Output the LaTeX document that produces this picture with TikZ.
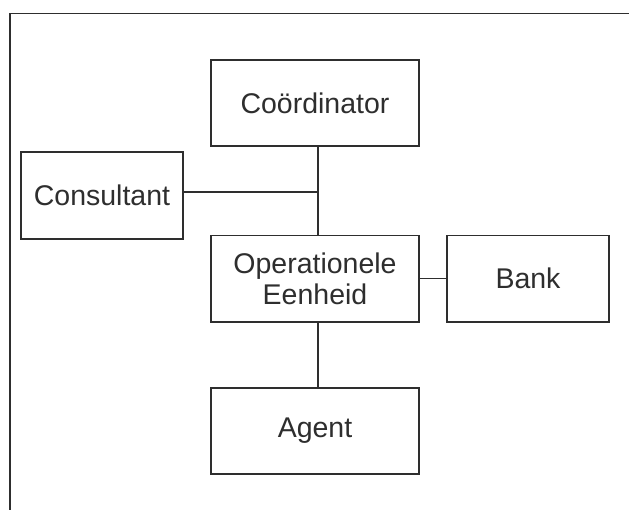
\documentclass[tikz,border=0pt]{standalone}
\usepackage{fontspec}
\setmainfont{Liberation Sans}
\definecolor{ink}{HTML}{2E2E2E}
\begin{document}
\begin{tikzpicture}[x=1pt,y=-1pt,
  box/.style={draw=ink, line width=1.2pt, inner sep=0pt, minimum width=208pt, minimum height=86pt,
    font=\fontsize{28.5}{30.5}\selectfont, text=ink, align=center},
  conn/.style={draw=ink, line width=1.2pt},
  frame/.style={draw=ink, line width=1.4pt}]
\useasboundingbox (0,0) rectangle (629,510);
\fill[white] (0,0) rectangle (629,510);
\draw[frame] (10,510) -- (10,13.5) -- (629,13.5);
\node[box] (coord) at (315,103) {Coördinator};
\node[box, minimum width=162pt, minimum height=87pt] (cons) at (102,195.5) {Consultant};
\node[box, minimum height=86.5pt] (op) at (315,278.75) {Operationele\\Eenheid};
\node[box, minimum width=162pt, minimum height=86.5pt] (bank) at (528,278.75) {Bank};
\node[box] (agent) at (315,431) {Agent};
\coordinate (j) at (318,192);
\draw[conn] (coord.south -| j) -- (op.north -| j);
\draw[conn] (cons.east |- j) -- (j);
\draw[conn] (op.east) -- (bank.west);
\draw[conn] (op.south -| j) -- (agent.north -| j);
\end{tikzpicture}
\end{document}
